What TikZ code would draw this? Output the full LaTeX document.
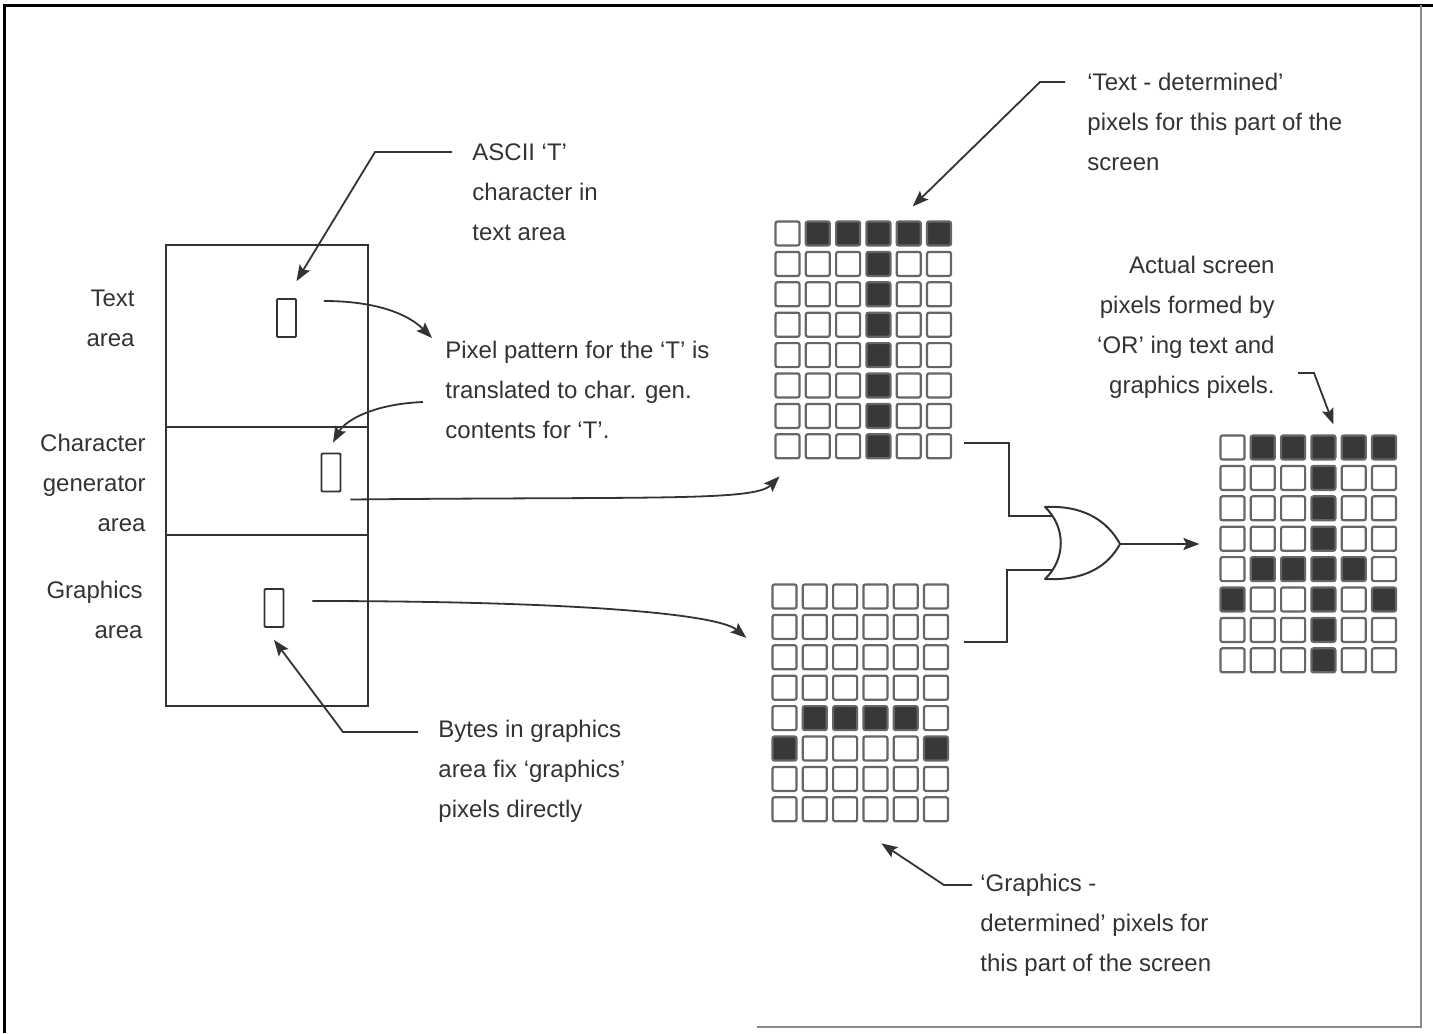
\documentclass[tikz,border=0pt]{standalone}
\usepackage{fontspec}
\setmainfont{Liberation Sans}
\usetikzlibrary{arrows.meta,positioning}

\colorlet{ink}{black!80}
\colorlet{pix0}{white}
\colorlet{pix1}{black!78}

\tikzset{
    area/.style={draw=ink, line width=1pt, minimum width=101pt, inner sep=0pt, outer sep=0pt},
    charbox/.style={draw=ink, line width=0.9pt, minimum width=9.5pt, minimum height=19pt, inner sep=0pt, rounded corners=0.5pt},
    pixel/.style={draw=black!60, line width=1.1pt, minimum size=12pt, inner sep=0pt, rounded corners=1pt},
    note/.style={font=\fontsize{12}{20}\selectfont, text=ink, align=left, inner sep=0pt},
    pointer/.style={draw=ink, line width=0.9pt, -{Stealth[length=8pt,width=6pt,inset=1.5pt]}},
    wire/.style={draw=ink, line width=0.9pt},
}
% 6x8 pixel grid: name, x and y of the first cell, rows of 0/1
\newcommand{\pixgrid}[4]{%
    \foreach \pixrow [count=\ri] in {#4} {
        \foreach \pixval [count=\ci] in \pixrow {
            \node[pixel, fill=pix\pixval] (#1-\ri-\ci) at ({#2+(\ci-1)*30.3},{#3+(\ri-1)*30.4}) {};
        }
    }
}

\begin{document}
\begin{tikzpicture}[x=0.5pt, y=-0.5pt]
    \useasboundingbox (0,0) rectangle (1433,1033);

    % edges of the scanned page
    \draw[black, line width=1.5pt] (4,1033) -- (4,5) -- (1433,5);
    \draw[black!45, line width=1pt] (757,1027) -- (1421,1027) -- (1421,5);

    % memory map
    \node[area, minimum height=91pt, anchor=north west] (txtarea) at (166,245) {};
    \node[area, minimum height=54pt, below=0pt of txtarea] (genarea) {};
    \node[area, minimum height=85.5pt, below=0pt of genarea] (gfxarea) {};

    \node[charbox] (txtchar) at (286.5,318) {};
    \node[charbox] (genchar) at (331,472.5) {};
    \node[charbox] (gfxchar) at (274,608) {};

    \node[note, align=right, anchor=east] (txtname) at (135,318) {Text\\area};
    \node[note, align=right, anchor=east] (genname) at (146,483) {Character\\generator\\area};
    \node[note, align=right, anchor=east] (gfxname) at (143,610) {Graphics\\area};

    % pixel grids
    \pixgrid{txt}{787.5}{233.5}{{0,1,1,1,1,1},{0,0,0,1,0,0},{0,0,0,1,0,0},{0,0,0,1,0,0},
        {0,0,0,1,0,0},{0,0,0,1,0,0},{0,0,0,1,0,0},{0,0,0,1,0,0}}
    \pixgrid{gfx}{784.5}{596.5}{{0,0,0,0,0,0},{0,0,0,0,0,0},{0,0,0,0,0,0},{0,0,0,0,0,0},
        {0,1,1,1,1,0},{1,0,0,0,0,1},{0,0,0,0,0,0},{0,0,0,0,0,0}}
    \pixgrid{res}{1232.5}{447.5}{{0,1,1,1,1,1},{0,0,0,1,0,0},{0,0,0,1,0,0},{0,0,0,1,0,0},
        {0,1,1,1,1,0},{1,0,0,1,0,1},{0,0,0,1,0,0},{0,0,0,1,0,0}}

    % notes
    \node[note, anchor=west] (asciinote) at (472,192) {ASCII `T'\\character in\\text area};
    \node[note, anchor=west] (pixnote) at (445,390) {Pixel pattern for the `T' is\\translated to char. gen.\\contents for `T'.};
    \node[note, anchor=west] (textdetnote) at (1087,122) {`Text - determined'\\pixels for this part of the\\screen};
    \node[note, align=right, anchor=east] (actualnote) at (1275,327) {Actual screen\\pixels formed by\\`OR' ing text and\\graphics pixels.};
    \node[note, anchor=west] (bytesnote) at (438,771) {Bytes in graphics\\area fix `graphics'\\pixels directly};
    \node[note, anchor=west] (gfxdetnote) at (980,925) {`Graphics -\\determined' pixels for\\this part of the screen};

    % OR of the two pixel sources
    \coordinate (ortop) at (1045,507);
    \coordinate (orbot) at (1045,579);
    \coordinate (orout) at (1120,544);
    \coordinate (orin1) at (1052,516);
    \coordinate (orin2) at (1052,570);
    \draw[ink, line width=1pt, line join=round]
        (ortop) .. controls (1066,527) and (1066,559) .. (orbot)
        .. controls (1085,581) and (1108,566) .. (orout)
        .. controls (1108,522) and (1085,505) .. (ortop) -- cycle;
    \draw[wire] ([shift={(12,-3)}]txt-8-6.east) -- ++(45,0) |- (orin1);
    \draw[wire] ([shift={(15,15)}]gfx-2-6.east) -- ++(43,0) |- (orin2);
    \draw[pointer, shorten >=10pt] (orout) -- (orout -| res-4-1.west);

    % leaders
    \draw[pointer] ([shift={(-20,-40)}]asciinote.west) -- ++(-77,0) -- ([shift={(10,-17)}]txtchar.north);
    \draw[pointer] ([shift={(-22,-40)}]textdetnote.west) -- ++(-25,0) -- ([shift={(4,-14)}]txt-1-5.north);
    \draw[pointer] ([shift={(23,46)}]actualnote.east) -- ++(16,0) -- ([shift={(10,-10)}]res-1-4.north);
    \draw[pointer] ([shift={(-20,-39)}]bytesnote.west) -- ++(-75,0) -- ([yshift=-6pt]gfxchar.south);
    \draw[pointer] ([shift={(-8,-40)}]gfxdetnote.west) -- ++(-28,0) -- ([shift={(6,21)}]gfx-8-4.south);

    % data paths
    \draw[pointer] ([shift={(27,-17)}]txtchar.east) .. controls +(50,0) and +(-25,-25) .. ([shift={(-13,-52)}]pixnote.west);
    \draw[pointer] ([shift={(-22,12)}]pixnote.west) .. controls +(-50,2) and +(12,-22) .. ([shift={(2,-10)}]genchar.north);
    \draw[pointer] ([shift={(9,27)}]genchar.east) .. controls +(300,-3) and +(-25,25) .. ([shift={(-8,17)}]txt-8-1.south);
    \draw[pointer] ([shift={(28,-7)}]gfxchar.east) .. controls +(250,0) and +(-30,-25) .. ([shift={(-25,11)}]gfx-2-1.west);
\end{tikzpicture}
\end{document}
